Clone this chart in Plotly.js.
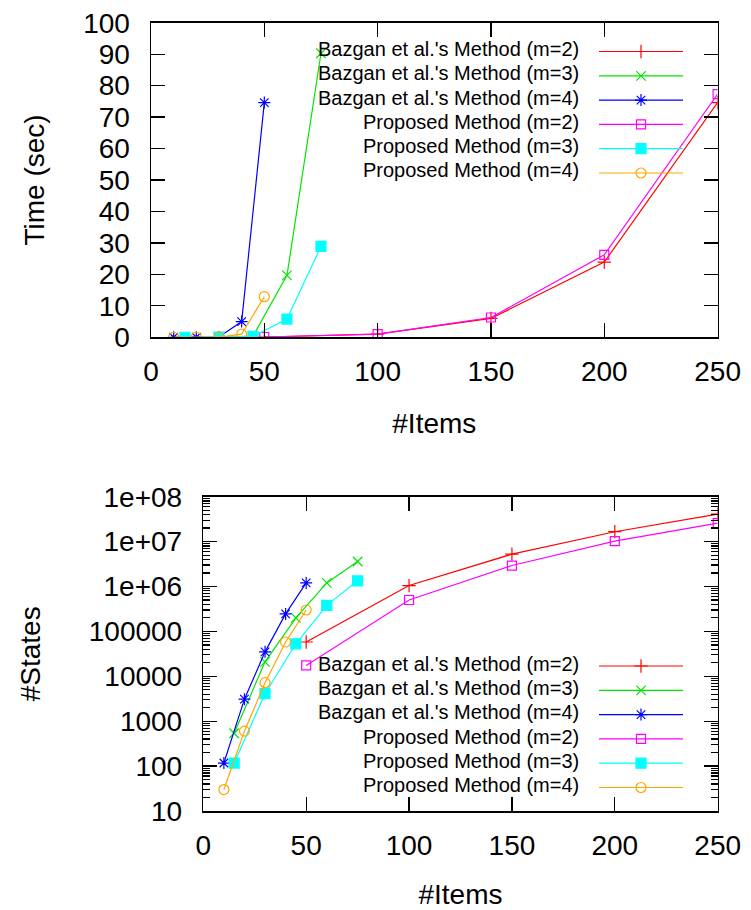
<!DOCTYPE html>
<html><head><meta charset="utf-8">
<script src="https://cdn.plot.ly/plotly-3.0.1.min.js"></script>
<style>html,body{margin:0;padding:0;background:#fff}</style>
</head><body><div id="chart" style="width:751px;height:910px"></div>
<script>
// ---- data ----
const seriesNames = [
  "Bazgan et al.'s Method (m=2)",
  "Bazgan et al.'s Method (m=3)",
  "Bazgan et al.'s Method (m=4)",
  "Proposed Method (m=2)",
  "Proposed Method (m=3)",
  "Proposed Method (m=4)"
];
const itemsM2 = [50, 100, 150, 200, 250];
const itemsM3 = [15, 30, 45, 60, 75];
const itemsM4 = [10, 20, 30, 40, 50];

// Time (sec)
const timeBazganM2 = [0.1, 1.0, 6.0, 23.9, 74.6];
const timeBazganM3 = [0.01, 0.05, 0.4, 19.7, 90.3];
const timeBazganM4 = [0.01, 0.03, 0.1, 5.0, 74.6];
const timeProposedM2 = [0.1, 1.0, 6.3, 26.2, 77.3];
const timeProposedM3 = [0.01, 0.03, 0.3, 5.8, 28.9];
const timeProposedM4 = [0.01, 0.02, 0.05, 1.0, 12.9];

// #States
const statesBazganM2 = [58000, 1050000, 5250000, 16600000, 41000000];
const statesBazganM3 = [540, 21000, 200000, 1200000, 3600000];
const statesBazganM4 = [117, 3100, 35000, 245000, 1200000];
const statesProposedM2 = [17500, 500000, 2930000, 10200000, 25700000];
const statesProposedM3 = [117, 4100, 53000, 380000, 1340000];
const statesProposedM4 = [30, 600, 7200, 58000, 300000];

const xTicks = [0, 50, 100, 150, 200, 250];
const timeTicks = [0, 10, 20, 30, 40, 50, 60, 70, 80, 90, 100];
const statesTicks = [10, 100, 1000, 10000, 100000, 1000000, 10000000, 100000000];
const statesTickText = ["10", "100", "1000", "10000", "100000", "1e+06", "1e+07", "1e+08"];

// ---- styles ----
const seriesX = [itemsM2, itemsM3, itemsM4, itemsM2, itemsM3, itemsM4];
const seriesTime = [timeBazganM2, timeBazganM3, timeBazganM4, timeProposedM2, timeProposedM3, timeProposedM4];
const seriesStates = [statesBazganM2, statesBazganM3, statesBazganM4, statesProposedM2, statesProposedM3, statesProposedM4];
const colors = ["#ff0000", "#00e600", "#0000ff", "#ff00ff", "#00ffff", "#ffa500"];
const symbols = ["cross-thin-open", "x-thin-open", "asterisk-open", "square-open", "square", "circle-open"];
const sizes = [9.5, 9.5, 10, 9, 10, 10];

const FONT = "Liberation Sans, Arial, sans-serif";
const traces = [];
function addTraces(ys, xa, ya, leg) {
  for (let i = 0; i < 6; i++) {
    traces.push({
      type: "scatter", mode: "lines+markers", name: seriesNames[i],
      x: seriesX[i], y: ys[i], xaxis: xa, yaxis: ya,
      legend: leg, legendgroup: leg + "g" + i,
      line: {color: colors[i], width: 1.2},
      marker: {symbol: symbols[i], size: sizes[i], color: colors[i], line: {color: colors[i], width: 1.2}}
    });
  }
}
addTraces(seriesTime, "x", "y", "legend");
addTraces(seriesStates, "x2", "y2", "legend2");

const W = 751, H = 910;
const axBase = {
  showline: true, linecolor: "#000", linewidth: 1.5, mirror: "allticks",
  ticks: "inside", ticklen: 14, tickcolor: "#000", tickwidth: 1.2,
  showgrid: false, zeroline: false, automargin: false,
  tickfont: {family: FONT, size: 28, color: "#000"}
};
const annotations = [];
const rowsTop = [49, 73.3, 97.7, 122, 146.3, 170.3];
const rowsBot = [663.7, 688, 712.3, 736.7, 761, 785.3];
function addLabels(rows) {
  rows.forEach((py, i) => annotations.push({
    xref: "paper", yref: "paper", x: 581 / W, y: (H - py) / H,
    xanchor: "right", yanchor: "middle", showarrow: false,
    text: seriesNames[i], font: {family: FONT, size: 20, color: "#000"}
  }));
}
addLabels(rowsTop);
addLabels(rowsBot);

const legBase = {
  xanchor: "left", yanchor: "top", bgcolor: "rgba(0,0,0,0)", borderwidth: 0,
  font: {family: FONT, size: 1, color: "rgba(0,0,0,0)"}, itemwidth: 84, tracegroupgap: 5.3
};

const layout = {
  width: W, height: H, margin: {l: 0, r: 0, t: 0, b: 0},
  paper_bgcolor: "#fff", plot_bgcolor: "#fff",
  font: {family: FONT, color: "#000"},
  xaxis: Object.assign({}, axBase, {
    domain: [151 / W, 717.6 / W], range: [0, 250], anchor: "y",
    tickvals: xTicks, ticklabelstandoff: 9,
    title: {text: "#Items", font: {family: FONT, size: 28}, standoff: 27}
  }),
  yaxis: Object.assign({}, axBase, {
    domain: [(H - 337.3) / H, (H - 22.7) / H], range: [0, 100], anchor: "x",
    tickvals: timeTicks, ticklabelstandoff: 14,
    title: {text: "Time (sec)", font: {family: FONT, size: 28}, standoff: 30}
  }),
  xaxis2: Object.assign({}, axBase, {
    domain: [203.3 / W, 717.7 / W], range: [0, 250], anchor: "y2",
    tickvals: xTicks, ticklabelstandoff: 9,
    title: {text: "#Items", font: {family: FONT, size: 28}, standoff: 24}
  }),
  yaxis2: Object.assign({}, axBase, {
    type: "log", domain: [(H - 811) / H, (H - 496.7) / H], range: [1, 8], anchor: "x2",
    tickvals: statesTicks, ticktext: statesTickText, ticklabelstandoff: 14,
    minor: {dtick: "D1", ticks: "inside", ticklen: 7, tickcolor: "#000", tickwidth: 1.2, showgrid: false},
    title: {text: "#States", font: {family: FONT, size: 28}, standoff: 40}
  }),
  legend: Object.assign({}, legBase, {x: 594 / W, y: (H - 37) / H}),
  legend2: Object.assign({}, legBase, {x: 594 / W, y: (H - 651.5) / H}),
  annotations: annotations,
  showlegend: true
};

Plotly.newPlot("chart", traces, layout, {displayModeBar: false, staticPlot: true});
</script>
</body></html>
